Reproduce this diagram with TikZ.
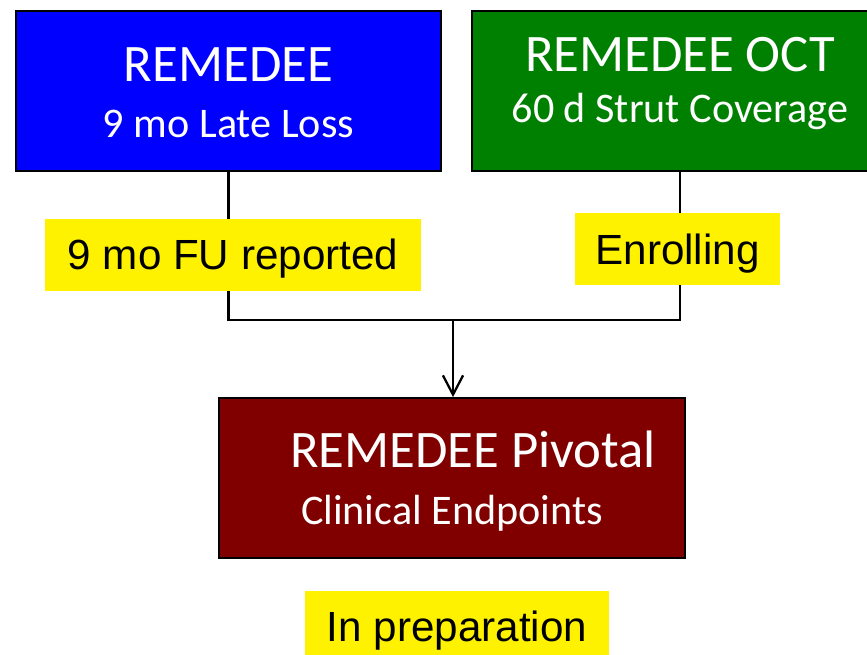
\documentclass[tikz,border=0pt]{standalone}
\usepackage{fontspec}
\setmainfont{Carlito}
\newfontfamily\labelfont{Liberation Sans}
\usetikzlibrary{positioning, arrows.meta}
\definecolor{studyblue}{RGB}{0,0,255}
\definecolor{studygreen}{RGB}{0,128,0}
\definecolor{studyred}{RGB}{128,0,0}

\begin{document}
\begin{tikzpicture}[box/.style={draw=black, line width=1pt, minimum height=3.2cm, inner sep=0pt}, tag/.style={fill=yellow, minimum height=1.44cm, inner sep=0pt, text height=21.6pt, text depth=4.8pt, font=\labelfont\fontsize{24}{28}\selectfont}, title/.style={anchor=base, text=white, font=\fontsize{30}{36}\selectfont}, subtitle/.style={anchor=base, text=white, font=\fontsize{24}{29}\selectfont}]
\useasboundingbox (0,0) rectangle (17.34,13.1);
\clip (0,0) rectangle (17.34,13.1);
\node[box, fill=studyblue, minimum width=8.5cm] (remedee) at (4.57,11.28) {};
\node[title] (remedeeT) at (4.57,11.46) {REMEDEE};
\node[subtitle] (remedeeS) at (4.57,10.34) {9 mo Late Loss};
\node[box, fill=studygreen, minimum width=8.32cm] (oct) at (13.6,11.28) {};
\node[title] (octT) at (13.6,11.66) {REMEDEE OCT};
\node[subtitle] (octS) at (13.6,10.64) {60 d Strut Coverage};
\node[box, fill=studyred, minimum width=9.32cm] (pivotal) at (9.04,3.54) {};
\node[title] (pivotalT) at (9.46,3.74) {REMEDEE Pivotal};
\node[subtitle] (pivotalS) at (9.04,2.6) {Clinical Endpoints};
\coordinate (merge) at (9.06,6.7);
\draw[line width=1.3pt] (remedee.south) |- (merge) -| (oct.south);
\draw[line width=1.3pt, -{Straight Barb[length=11pt,width=11.5pt]}] (merge) -- (merge |- pivotal.north);
\node[tag, minimum width=7.52cm] (reported) at (4.66,8.0) {9 mo FU reported};
\node[tag, minimum width=4.1cm] (enrolling) at (13.55,8.11) {Enrolling};
\node[tag, minimum width=6.08cm] (prep) at (9.14,0.56) {In preparation};
\end{tikzpicture}
\end{document}
